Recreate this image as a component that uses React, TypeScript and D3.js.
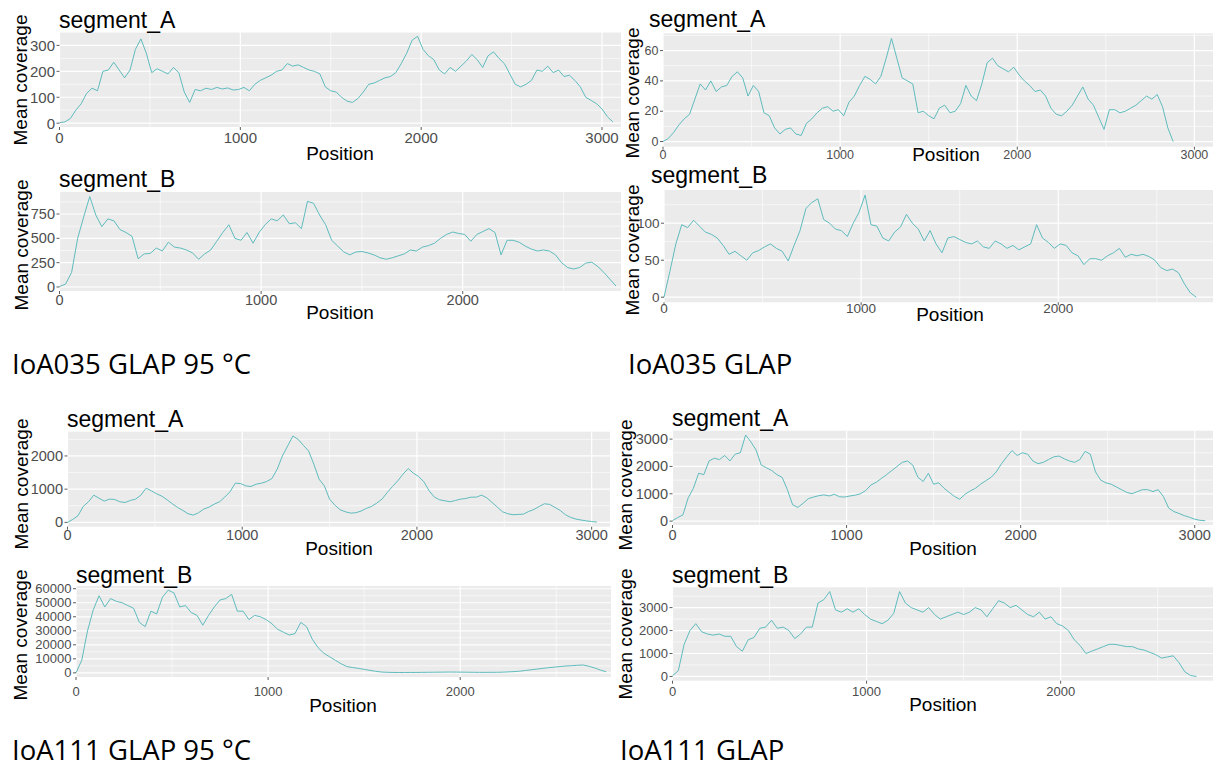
import * as d3 from "d3";

// sampling step along the segment (bp)
const STEP = 30;
const SEG_A_LEN = 3105;
const SEG_B_LEN = 2785;

const X_TICKS_A = [0, 1000, 2000, 3000];
const X_TICKS_B = [0, 1000, 2000];

// IoA035 GLAP 95 °C
const ioa035hot_A = [
  2, 5, 18, 50, 75, 115, 135, 125, 200, 205, 235, 205, 175, 205, 285, 325, 270, 195, 210, 200,
  190, 215, 195, 120, 80, 130, 125, 135, 130, 138, 132, 136, 128, 130, 138, 125, 150, 165, 175, 185,
  200, 205, 230, 220, 225, 215, 205, 200, 190, 140, 125, 120, 100, 85, 80, 95, 120, 150, 155, 165,
  175, 180, 195, 230, 270, 320, 335, 285, 260, 245, 205, 190, 215, 200, 220, 240, 265, 245, 215, 260,
  275, 250, 230, 190, 150, 140, 150, 165, 205, 200, 220, 195, 205, 180, 185, 165, 140, 100, 88, 75,
  55, 25, 5,
];
const ioa035hot_B = [
  5, 30, 150, 500, 720, 930, 740, 620, 700, 680, 590, 560, 520, 290, 340, 345, 400, 370, 460, 410,
  400, 380, 350, 285, 340, 380, 470, 560, 640, 500, 480, 560, 450, 560, 640, 700, 680, 740, 650, 660,
  600, 880, 860, 740, 640, 480, 420, 360, 330, 360, 365, 350, 330, 300, 285, 300, 320, 340, 380, 370,
  410, 425, 450, 500, 540, 565, 550, 540, 470, 540, 570, 600, 560, 330, 480, 480, 460, 420, 390, 370,
  380, 370, 330, 250, 200, 185, 200, 245, 255, 210, 150, 80, 10,
];

// IoA035 GLAP
const ioa035_A = [
  0, 2, 6, 11, 15, 18, 28, 38, 34, 40, 33, 36, 37, 43, 46, 42, 30, 37, 33, 19,
  17, 9, 5, 8, 9, 5, 4, 12, 15, 19, 22, 23, 20, 21, 17, 26, 30, 37, 43, 41,
  38, 43, 55, 68, 55, 42, 40, 38, 19, 20, 17, 15, 22, 24, 19, 20, 25, 37, 30, 27,
  38, 52, 55, 50, 48, 46, 49, 44, 40, 37, 33, 34, 30, 22, 18, 17, 20, 24, 30, 36,
  28, 24, 16, 8, 21, 21, 19, 20, 22, 24, 27, 30, 28, 31, 23, 9, 0,
];
const ioa035_B = [
  0, 35, 72, 98, 94, 104, 96, 88, 85, 80, 70, 58, 62, 56, 50, 60, 63, 68, 72, 66,
  62, 49, 70, 90, 120, 128, 133, 105, 100, 92, 90, 82, 100, 115, 138, 98, 96, 80, 76, 88,
  95, 112, 100, 92, 76, 90, 72, 60, 80, 82, 78, 74, 72, 76, 68, 66, 76, 72, 66, 70,
  64, 68, 72, 98, 80, 74, 66, 72, 70, 60, 56, 44, 52, 52, 50, 56, 60, 66, 54, 58,
  56, 58, 55, 50, 40, 36, 38, 33, 18, 6, 0,
];

// IoA111 GLAP 95 °C
const ioa111hot_A = [
  0, 90, 200, 480, 620, 820, 730, 640, 700, 690, 620, 600, 660, 700, 820, 1030, 950, 860, 790, 680,
  560, 450, 360, 260, 220, 290, 400, 460, 550, 620, 760, 920, 1180, 1170, 1100, 1080, 1150, 1180, 1230, 1320,
  1600, 2000, 2300, 2600, 2500, 2320, 2150, 1750, 1300, 1100, 700, 520, 380, 320, 280, 290, 340, 420, 480, 580,
  700, 900, 1080, 1250, 1450, 1620, 1480, 1380, 1220, 950, 760, 680, 650, 620, 660, 700, 720, 760, 760, 820,
  740, 600, 460, 320, 260, 230, 240, 250, 330, 390, 480, 560, 540, 450, 360, 230, 150, 100, 70, 45,
  25, 10,
];
const ioa111hot_B = [
  0, 9000, 30000, 45000, 55000, 47000, 53000, 51000, 50000, 48000, 46000, 36000, 33000, 44000, 42000, 54000, 59000, 57000, 47000, 48000,
  43000, 41000, 34000, 41000, 47000, 52000, 53000, 56000, 44000, 44000, 38000, 41000, 40000, 38000, 35000, 31000, 29000, 27000, 28000, 36000,
  33000, 24000, 18000, 14000, 11500, 9000, 6500, 4500, 3800, 3200, 2500, 1800, 1100, 600, 400, 300, 250, 250, 300, 300,
  350, 400, 450, 500, 550, 600, 550, 500, 450, 400, 350, 350, 400, 400, 500, 700, 900, 1200, 1700, 2200,
  2700, 3200, 3700, 4100, 4500, 4900, 5100, 5400, 5600, 4700, 3500, 2000, 800,
];

// IoA111 GLAP
const ioa111_A = [
  20, 130, 230, 850, 1200, 1750, 1700, 2200, 2300, 2250, 2400, 2200, 2450, 2500, 3150, 2900, 2600, 2050, 1950, 1850,
  1700, 1600, 1150, 600, 500, 650, 820, 880, 930, 960, 920, 980, 890, 880, 920, 950, 1000, 1120, 1320, 1420,
  1560, 1700, 1850, 2000, 2150, 2200, 2050, 1600, 1450, 1750, 1350, 1400, 1200, 1050, 900, 800, 980, 1100, 1200, 1350,
  1480, 1600, 1800, 2100, 2350, 2580, 2400, 2500, 2450, 2200, 2100, 2150, 2250, 2350, 2380, 2280, 2200, 2150, 2250, 2550,
  2450, 1800, 1500, 1400, 1350, 1250, 1150, 1050, 1000, 1080, 1150, 1150, 1080, 1150, 900, 480, 350, 280, 200, 140,
  70, 30, 15,
];
const ioa111_B = [
  30, 250, 1400, 2000, 2300, 1950, 1850, 1800, 1850, 1750, 1750, 1300, 1100, 1600, 1700, 2100, 2150, 2450, 2100, 2150,
  2000, 1650, 1850, 2150, 2150, 3200, 3350, 3700, 2900, 2800, 2950, 2800, 2950, 2700, 2500, 2400, 2300, 2450, 2750, 3700,
  3200, 3000, 2900, 2800, 3000, 2700, 2500, 2600, 2700, 2800, 2700, 2800, 3000, 2900, 2600, 2950, 3300, 3200, 3000, 3100,
  2900, 2700, 2600, 2800, 2500, 2600, 2300, 2200, 2000, 1600, 1350, 1000, 1100, 1200, 1300, 1400, 1400, 1350, 1300, 1300,
  1200, 1150, 1050, 950, 800, 850, 900, 600, 200, 40, 0,
];

const CAPTIONS = [
  { text: "IoA035 GLAP 95 °C", x: 12, y: 374 },
  { text: "IoA035 GLAP", x: 628, y: 374 },
  { text: "IoA111 GLAP 95 °C", x: 12, y: 760 },
  { text: "IoA111 GLAP", x: 620, y: 760 },
];

const PANELS = [
  {
    values: ioa035hot_A, title: "segment_A", xMax: SEG_A_LEN, xTicks: X_TICKS_A, yTicks: [0, 100, 200, 300],
    box: { l: 59.5, r: 621, t: 32, b: 127 }, titleXY: [59, 28], yLab: [20.5, 80], xLabY: 137.5, posXY: [340, 160], tick: 15,
  },
  {
    values: ioa035hot_B, title: "segment_B", xMax: SEG_B_LEN, xTicks: X_TICKS_B, yTicks: [0, 250, 500, 750],
    box: { l: 59.5, r: 621, t: 192, b: 291 }, titleXY: [59, 187], yLab: [21, 245], xLabY: 300, posXY: [340, 319], tick: 14.5,
  },
  {
    values: ioa035_A, title: "segment_A", xMax: SEG_A_LEN, xTicks: X_TICKS_A, yTicks: [0, 20, 40, 60],
    box: { l: 663, r: 1213, t: 33.3, b: 146.7 }, titleXY: [649, 27], yLab: [632, 93], xLabY: 155, posXY: [946, 161], tick: 12.5,
  },
  {
    values: ioa035_B, title: "segment_B", xMax: SEG_B_LEN, xTicks: X_TICKS_B, yTicks: [0, 50, 100],
    box: { l: 664, r: 1213, t: 190, b: 302.3 }, titleXY: [651, 183], yLab: [632, 250], xLabY: 308, posXY: [950, 321], tick: 13.5,
  },
  {
    values: ioa111hot_A, title: "segment_A", xMax: SEG_A_LEN, xTicks: X_TICKS_A, yTicks: [0, 1000, 2000],
    box: { l: 67.5, r: 610, t: 431.7, b: 526.7 }, titleXY: [67, 426.5], yLab: [21, 484], xLabY: 534.7, posXY: [339, 555], tick: 14.5,
  },
  {
    values: ioa111hot_B, title: "segment_B", xMax: SEG_B_LEN, xTicks: X_TICKS_B,
    yTicks: [0, 10000, 20000, 30000, 40000, 50000, 60000],
    box: { l: 76, r: 611, t: 586, b: 677 }, titleXY: [76, 583], yLab: [20, 635], xLabY: 691, posXY: [343, 711.5], tick: 13,
  },
  {
    values: ioa111_A, title: "segment_A", xMax: SEG_A_LEN, xTicks: X_TICKS_A, yTicks: [0, 1000, 2000, 3000],
    box: { l: 672.5, r: 1213, t: 430.7, b: 525 }, titleXY: [672, 426], yLab: [625.5, 485], xLabY: 535, posXY: [943, 555], tick: 14.5,
  },
  {
    values: ioa111_B, title: "segment_B", xMax: SEG_B_LEN, xTicks: X_TICKS_B, yTicks: [0, 1000, 2000, 3000],
    box: { l: 672.5, r: 1213, t: 587.3, b: 680.7 }, titleXY: [672, 583], yLab: [625.5, 634], xLabY: 691.5, posXY: [943, 710.5], tick: 13,
  },
];

const FONT = "'Liberation Sans', Arial, sans-serif";
const LINE_COLOR = "#5fbcbe";

// ggplot-style minor breaks: midpoints of majors, extended one step outward
function minorBreaks(major: number[], lo: number, hi: number) {
  const step = major[1] - major[0];
  const out: number[] = [];
  for (let v = major[0] - step / 2; v <= hi; v += step) {
    if (v >= lo) out.push(v);
  }
  return out;
}

function Panel({ p }: { p: (typeof PANELS)[number] }) {
  const { box } = p;
  const data = p.values.map((v, i) => ({ pos: i * STEP, v }));
  const [lo, hi] = d3.extent(p.values) as [number, number];
  const pad = (hi - lo) * 0.05;

  const x = d3.scaleLinear().domain([0, p.xMax]).range([box.l, box.r]);
  const y = d3.scaleLinear().domain([lo - pad, hi + pad]).range([box.b, box.t]);

  const line = d3
    .line<{ pos: number; v: number }>()
    .x((d) => x(d.pos))
    .y((d) => y(d.v));

  const [yLo, yHi] = y.domain();
  const xMinor = minorBreaks(p.xTicks, 0, p.xMax);
  const yMinor = minorBreaks(p.yTicks, yLo, yHi);

  return (
    <g>
      <rect x={box.l} y={box.t} width={box.r - box.l} height={box.b - box.t} fill="#ebebeb" />
      {xMinor.map((v) => (
        <line key={"xm" + v} x1={x(v)} x2={x(v)} y1={box.t} y2={box.b} stroke="#fff" strokeWidth={0.6} />
      ))}
      {yMinor.map((v) => (
        <line key={"ym" + v} x1={box.l} x2={box.r} y1={y(v)} y2={y(v)} stroke="#fff" strokeWidth={0.6} />
      ))}
      {p.xTicks.map((v) => (
        <line key={"xM" + v} x1={x(v)} x2={x(v)} y1={box.t} y2={box.b} stroke="#fff" strokeWidth={1.2} />
      ))}
      {p.yTicks.map((v) => (
        <line key={"yM" + v} x1={box.l} x2={box.r} y1={y(v)} y2={y(v)} stroke="#fff" strokeWidth={1.2} />
      ))}

      <path d={line(data) ?? ""} fill="none" stroke={LINE_COLOR} strokeWidth={1} strokeLinejoin="round" />

      {p.yTicks.map((v) => (
        <g key={"yt" + v}>
          <line x1={box.l - 3} x2={box.l} y1={y(v)} y2={y(v)} stroke="#333" strokeWidth={0.8} />
          <text
            x={box.l - 4.5}
            y={y(v)}
            textAnchor="end"
            dominantBaseline="central"
            fontSize={p.tick}
            fill="#4d4d4d"
          >
            {v}
          </text>
        </g>
      ))}
      {p.xTicks.map((v) => (
        <g key={"xt" + v}>
          <line x1={x(v)} x2={x(v)} y1={box.b} y2={box.b + 3} stroke="#333" strokeWidth={0.8} />
          <text x={x(v)} y={p.xLabY} textAnchor="middle" dominantBaseline="central" fontSize={p.tick} fill="#4d4d4d">
            {v}
          </text>
        </g>
      ))}

      <text x={p.titleXY[0]} y={p.titleXY[1]} fontSize={23} fill="#000">
        {p.title}
      </text>
      <text x={p.posXY[0]} y={p.posXY[1]} textAnchor="middle" fontSize={19} fill="#000">
        Position
      </text>
      <text
        transform={`translate(${p.yLab[0]},${p.yLab[1]}) rotate(-90)`}
        textAnchor="middle"
        dominantBaseline="central"
        fontSize={19}
        fill="#000"
      >
        Mean coverage
      </text>
    </g>
  );
}

export default function App() {
  return (
    <svg
      width={1216}
      height={769}
      style={{ position: "absolute", left: 0, top: 0, background: "#fff" }}
      fontFamily={FONT}
    >
      <rect width={1216} height={769} fill="#fff" />
      {PANELS.map((p, i) => (
        <Panel key={i} p={p} />
      ))}
      {CAPTIONS.map((c) => (
        <text key={c.text + c.x} x={c.x} y={c.y} fontSize={27.5} fontFamily="'Open Sans', 'Noto Sans', sans-serif" fill="#000">
          {c.text}
        </text>
      ))}
    </svg>
  );
}
